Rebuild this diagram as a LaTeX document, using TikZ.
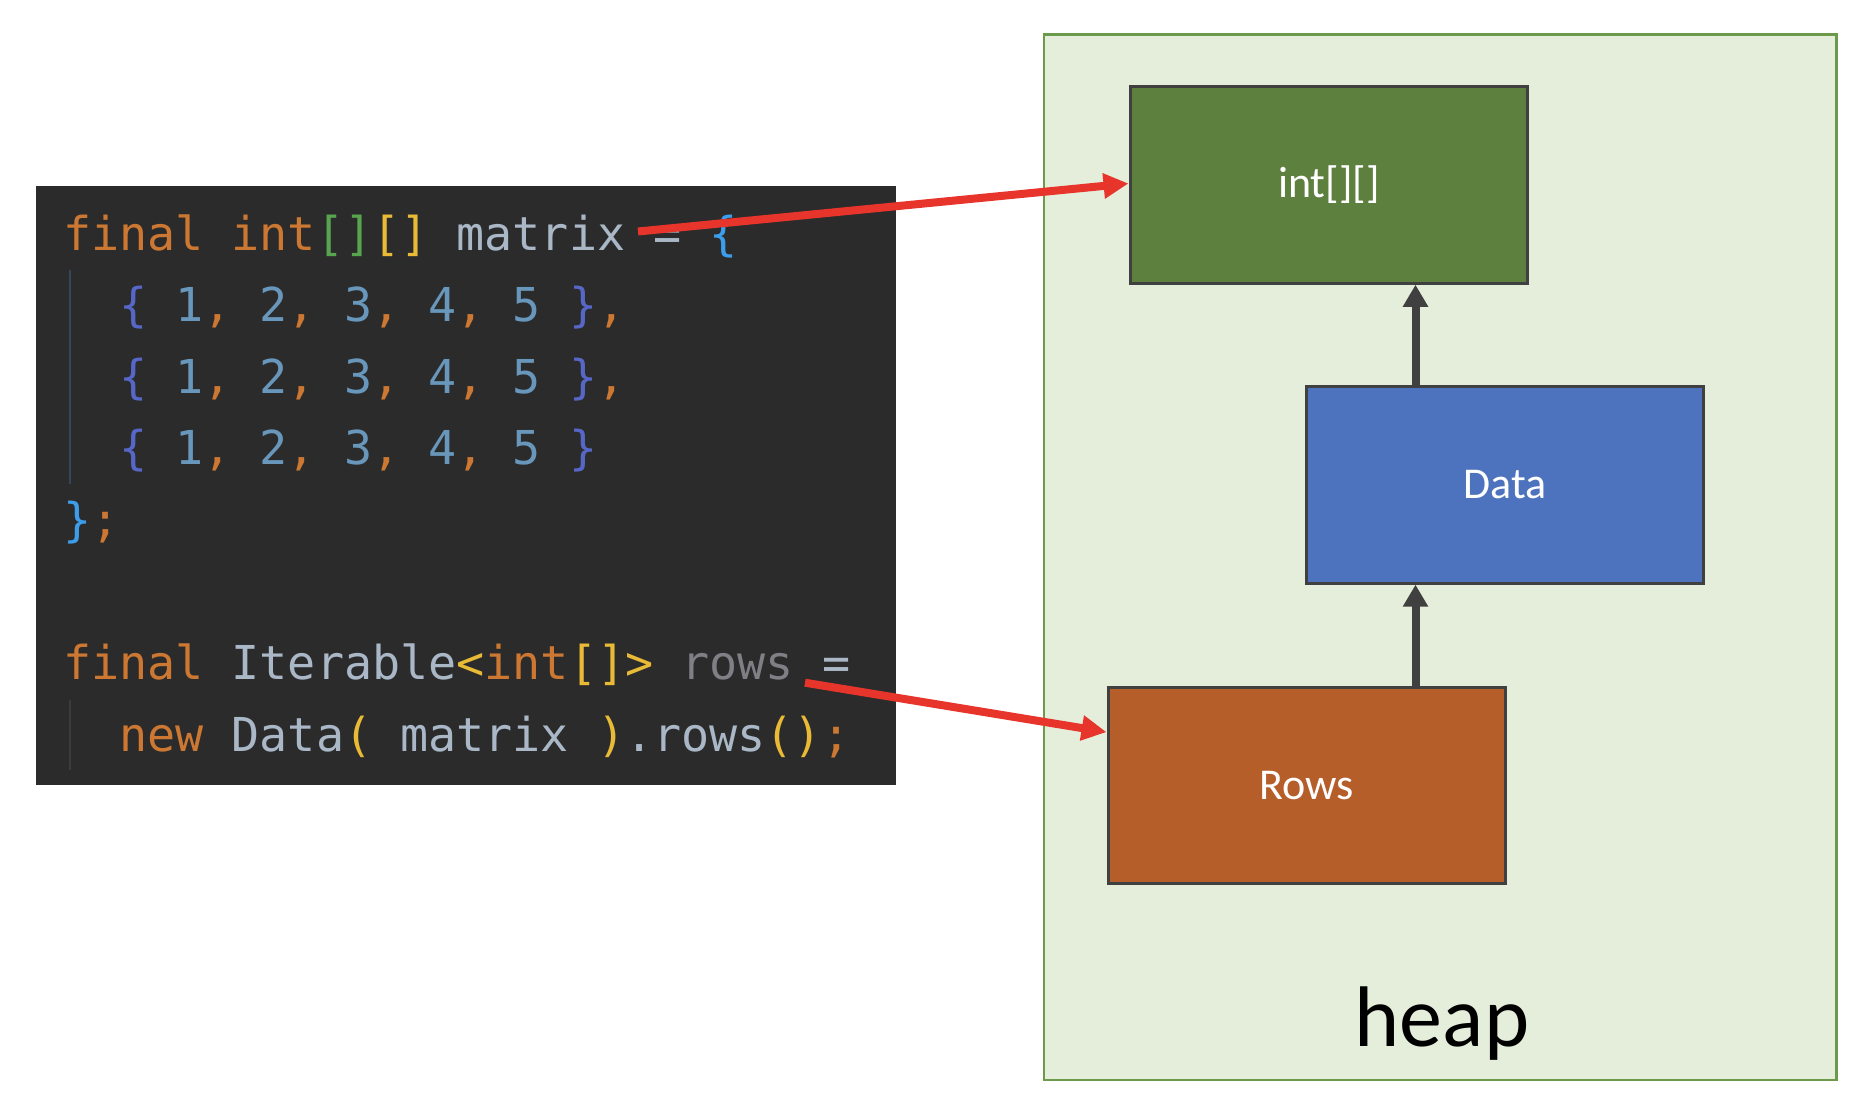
\documentclass[tikz,border=0pt]{standalone}
\usepackage{fontspec}
\setmainfont{Carlito}
\newfontfamily\codefont{DejaVu Sans Mono}
\usetikzlibrary{arrows.meta,calc}
\definecolor{codebg}{HTML}{2B2B2B}
\definecolor{kwc}{HTML}{CC7832}
\definecolor{idc}{HTML}{A9B7C6}
\definecolor{numc}{HTML}{6897BB}
\definecolor{brgreen}{HTML}{58A550}
\definecolor{bryellow}{HTML}{E8BA36}
\definecolor{brblue}{HTML}{3C9EEA}
\definecolor{brindigo}{HTML}{5767C8}
\definecolor{graytxt}{HTML}{7F7F86}
\definecolor{guideA}{HTML}{36465A}
\definecolor{guideB}{HTML}{3C3C3C}
\definecolor{heapfill}{HTML}{E4EEDB}
\definecolor{heapline}{HTML}{6A9A4A}
\definecolor{intgreen}{HTML}{5E803F}
\definecolor{datablue}{HTML}{4E73BE}
\definecolor{rowsorange}{HTML}{B65E29}
\definecolor{boxline}{HTML}{404040}
\definecolor{redc}{HTML}{E8352B}
\newcommand\ckw[1]{\textcolor{kwc}{#1}}
\newcommand\cid[1]{\textcolor{idc}{#1}}
\newcommand\cnum[1]{\textcolor{numc}{#1}}
\newcommand\cbg[1]{\textcolor{brgreen}{#1}}
\newcommand\cby[1]{\textcolor{bryellow}{#1}}
\newcommand\cbb[1]{\textcolor{brblue}{#1}}
\newcommand\cbi[1]{\textcolor{brindigo}{#1}}
\newcommand\cgr[1]{\textcolor{graytxt}{#1}}
\tikzset{
  codeline/.style={anchor=base west, inner sep=0pt, outer sep=0pt, font=\codefont\fontsize{46.7}{56}\selectfont},
  objbox/.style={draw=boxline, line width=3pt, minimum width=397.5pt, minimum height=196.5pt, inner sep=0pt, text=white, font=\fontsize{44}{52}\selectfont},
  redarrow/.style={draw=redc, line width=8pt, -{Triangle[length=25pt,width=24pt]}},
  darkarrow/.style={draw=boxline, line width=8pt, -{Triangle[length=22pt,width=24pt]}},
}
\begin{document}
\begin{tikzpicture}[x=1pt,y=-1pt]
\fill[white] (0,0) rectangle (1868,1108);
\useasboundingbox (0,0) rectangle (1868,1108);
% heap
\node[draw=heapline, fill=heapfill, line width=2.5pt, minimum width=792.5pt, minimum height=1045.4pt, inner sep=0pt] (heap) at (1440.25,557.3) {};
\node[anchor=base, inner sep=0pt, font=\fontsize{86}{100}\selectfont] (heaplbl) at (1442,1046) {heap};
% objects
\node[objbox, fill=intgreen] (arr) at (1328.8,185) {int[][]};
\node[objbox, fill=datablue] (data) at (1505.2,484.9) {Data};
\node[objbox, fill=rowsorange] (rows) at (1306.8,785.7) {Rows};
\coordinate (ux) at (1415.5,0);
\draw[darkarrow] (rows.north -| ux) -- (data.south -| ux);
\draw[darkarrow] (data.north -| ux) -- (arr.south -| ux);
% code block
\node[fill=codebg, minimum width=860.2pt, minimum height=599.2pt, inner sep=0pt] (code) at (465.8,485.4) {};
\draw[guideA, line width=1.5pt] (70,270) -- (70,484);
\draw[guideB, line width=1.5pt] (70,700) -- (70,770);
\node[codeline] (l1) at (63,250) {\ckw{final} \ckw{int}\cbg{[]}\cby{[]} \cid{matrix =} \cbb{\{}};
\node[codeline] (l2) at (119.2,321.6) {\cbi{\{} \cnum{1}\ckw{,} \cnum{2}\ckw{,} \cnum{3}\ckw{,} \cnum{4}\ckw{,} \cnum{5} \cbi{\}}\ckw{,}};
\node[codeline] (l3) at (119.2,393.2) {\cbi{\{} \cnum{1}\ckw{,} \cnum{2}\ckw{,} \cnum{3}\ckw{,} \cnum{4}\ckw{,} \cnum{5} \cbi{\}}\ckw{,}};
\node[codeline] (l4) at (119.2,464.8) {\cbi{\{} \cnum{1}\ckw{,} \cnum{2}\ckw{,} \cnum{3}\ckw{,} \cnum{4}\ckw{,} \cnum{5} \cbi{\}}};
\node[codeline] (l5) at (63,536.4) {\cbb{\}}\ckw{;}};
\node[codeline] (l6) at (63,679.6) {\ckw{final} \cid{Iterable}\cby{<}\ckw{int}\cby{[]>} \cgr{rows} \cid{=}};
\node[codeline] (l7) at (119.2,751.2) {\ckw{new} \cid{Data}\cby{(} \cid{matrix} \cby{)}\cid{.rows}\cby{()}\ckw{;}};
% references
\coordinate (mref) at (638,231.5);
\coordinate (rref) at (805,682.7);
\draw[redarrow] (mref) -- ([yshift=1.5pt]arr.west);
\draw[redarrow] (rref) -- ([yshift=53.6pt]rows.west);
\end{tikzpicture}
\end{document}
